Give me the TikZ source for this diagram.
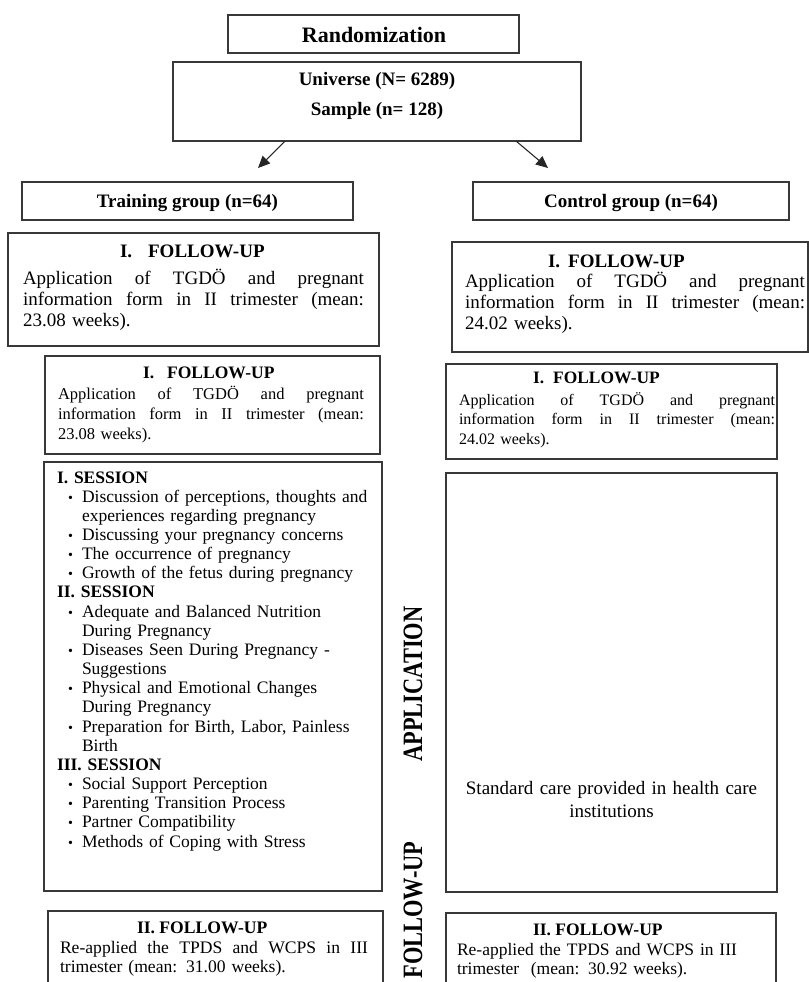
\documentclass[tikz,border=0pt]{standalone}
\usepackage{fontspec}
\setmainfont{Liberation Serif}
\usetikzlibrary{arrows.meta,fit}
\newlength{\px}\setlength{\px}{0.75pt}
\newcommand{\fsz}[2]{\fontsize{#1\px}{#2\px}\selectfont}
\newcommand{\jl}[2]{\makebox[#1\px]{#2}}
\newcommand{\hf}{\hspace{\fill}}
\newcommand{\bul}{\hspace*{11\px}\makebox[14\px][l]{\scalebox{0.8}{\textbullet}}}
\newcommand{\cont}{\hspace*{25\px}}
\begin{document}
\begin{tikzpicture}[x=0.75pt,y=-0.75pt,
  box/.style={draw=black!78, line width=1.1pt, inner sep=0pt, outer sep=0pt},
  txt/.style={inner sep=0pt, outer sep=0pt},
  arr/.style={draw=black!85, line width=0.8pt, -{Triangle[length=9pt,width=8pt]}},
  vlab/.style={txt, rotate=90, font=\fsz{28}{30}\bfseries}]
\useasboundingbox (0,0) rectangle (809,982);
\clip (0,0) rectangle (809,982);

% top
\node[box, fit={(228,15) (519,53)}] (rand) {};
\node[txt, anchor=base, font=\fsz{22}{24}\bfseries] (randt) at (374,42) {Randomization};
\node[box, fit={(173,62) (581,141)}] (univ) {};
\node[txt, anchor=base, font=\fsz{19}{21}\bfseries] (univt1) at (377,85) {Universe (N= 6289)};
\node[txt, anchor=base, font=\fsz{19}{21}\bfseries] (univt2) at (377,115) {Sample (n= 128)};

\coordinate (la) at (285,141);
\coordinate (lb) at (258,168);
\coordinate (ra) at (516,141);
\coordinate (rb) at (548,168);
\draw[arr] (la) -- (lb);
\draw[arr] (ra) -- (rb);

\node[box, fit={(22,182) (353,220)}] (train) {};
\node[txt, anchor=base, font=\fsz{19}{21}\bfseries] (traint) at (187.5,207) {Training group (n=64)};
\node[box, fit={(473,182) (789,220)}] (ctrl) {};
\node[txt, anchor=base, font=\fsz{19}{21}\bfseries] (ctrlt) at (631,207) {Control group (n=64)};

% first follow-up boxes
\node[box, fit={(8,233) (379,346)}] (lf1) {};
\node[txt, anchor=base west, font=\fsz{19}{21}\bfseries] (lf1h) at (120,257) {I.\hspace*{16\px}FOLLOW-UP};
\node[txt, anchor=base west, text width=341\px, align=left, font=\fsz{19}{21}] (lf1b) at (23,284)
  {\jl{341}{Application\hf of\hf TGDÖ\hf and\hf pregnant}\\\jl{341}{information\hf form\hf in\hf II\hf trimester\hf (mean:}\\23.08 weeks).};

\node[box, fit={(452,242) (808,352)}] (rf1) {};
\node[txt, anchor=base west, font=\fsz{19}{21}\bfseries] (rf1h) at (548,267) {I.\hspace*{8\px}FOLLOW-UP};
\node[txt, anchor=base west, text width=340\px, align=left, font=\fsz{19}{21}] (rf1b) at (465,287)
  {\jl{340}{Application\hf of\hf TGDÖ\hf and\hf pregnant}\\\jl{340}{information\hf form\hf in\hf II\hf trimester\hf (mean:}\\24.02 weeks).};

\node[box, fit={(45,356) (380,454)}] (lf2) {};
\node[txt, anchor=base west, font=\fsz{17.5}{20}\bfseries] (lf2h) at (143,378) {I.\hspace*{13\px}FOLLOW-UP};
\node[txt, anchor=base west, text width=306\px, align=left, font=\fsz{16.5}{20}] (lf2b) at (58,399)
  {\jl{306}{Application\hf of\hf TGDÖ\hf and\hf pregnant}\\\jl{306}{information\hf form\hf in\hf II\hf trimester\hf (mean:}\\23.08 weeks).};

\node[box, fit={(446,364) (777,459)}] (rf2) {};
\node[txt, anchor=base west, font=\fsz{17.4}{20}\bfseries] (rf2h) at (533,383) {I.\hspace*{9\px}FOLLOW-UP};
\node[txt, anchor=base west, text width=316\px, align=left, font=\fsz{16}{19.5}] (rf2b) at (459,405)
  {\jl{316}{Application\hf of\hf TGDÖ\hf and\hf pregnant}\\\jl{316}{information\hf form\hf in\hf II\hf trimester\hf (mean:}\\24.02 weeks).};

% application boxes
\node[box, fit={(44,462) (382,891)}] (sess) {};
\node[txt, anchor=base west, text width=320\px, align=left, font=\fsz{17.5}{19.16}] (sesst) at (57,483)
  {\textbf{I. SESSION}\\
   \bul Discussion of perceptions, thoughts and\\
   \cont experiences regarding pregnancy\\
   \bul Discussing your pregnancy concerns\\
   \bul The occurrence of pregnancy\\
   \bul Growth of the fetus during pregnancy\\
   \textbf{II. SESSION}\\
   \bul Adequate and Balanced Nutrition\\
   \cont During Pregnancy\\
   \bul Diseases Seen During Pregnancy -\\
   \cont Suggestions\\
   \bul Physical and Emotional Changes\\
   \cont During Pregnancy\\
   \bul Preparation for Birth, Labor, Painless\\
   \cont Birth\\
   \textbf{III. SESSION}\\
   \bul Social Support Perception\\
   \bul Parenting Transition Process\\
   \bul Partner Compatibility\\
   \bul Methods of Coping with Stress};

\node[box, fit={(446,473) (777,892)}] (std) {};
\node[txt, anchor=base, text width=320\px, align=center, font=\fsz{19}{23}] (stdt) at (611.5,794)
  {Standard care provided in health care\\institutions};

% side labels
\node[vlab] (applab) at (413,684) {\scalebox{0.8}[1]{APPLICATION}};
\node[vlab] (fulab) at (413,910) {\scalebox{0.8}[1]{FOLLOW-UP}};

% second follow-up boxes
\node[box, fit={(48,911) (383,1000)}] (lf3) {};
\node[txt, anchor=base west, font=\fsz{17.6}{20}\bfseries] (lf3h) at (137,933) {II. FOLLOW-UP};
\node[txt, anchor=base west, text width=308\px, align=left, font=\fsz{17.6}{19.5}] (lf3b) at (60,953)
  {\jl{308}{Re-applied\hf the\hf TPDS\hf and\hf WCPS\hf in\hf III}\\trimester (mean: 31.00 weeks).};

\node[box, fit={(446,913) (776,1000)}] (rf3) {};
\node[txt, anchor=base west, font=\fsz{17.5}{20}\bfseries] (rf3h) at (533,935) {II. FOLLOW-UP};
\node[txt, anchor=base west, text width=316\px, align=left, font=\fsz{17.5}{19.5}] (rf3b) at (457,955)
  {Re-applied the TPDS and WCPS in III\\trimester\ \ (mean: 30.92 weeks).};
\end{tikzpicture}
\end{document}
